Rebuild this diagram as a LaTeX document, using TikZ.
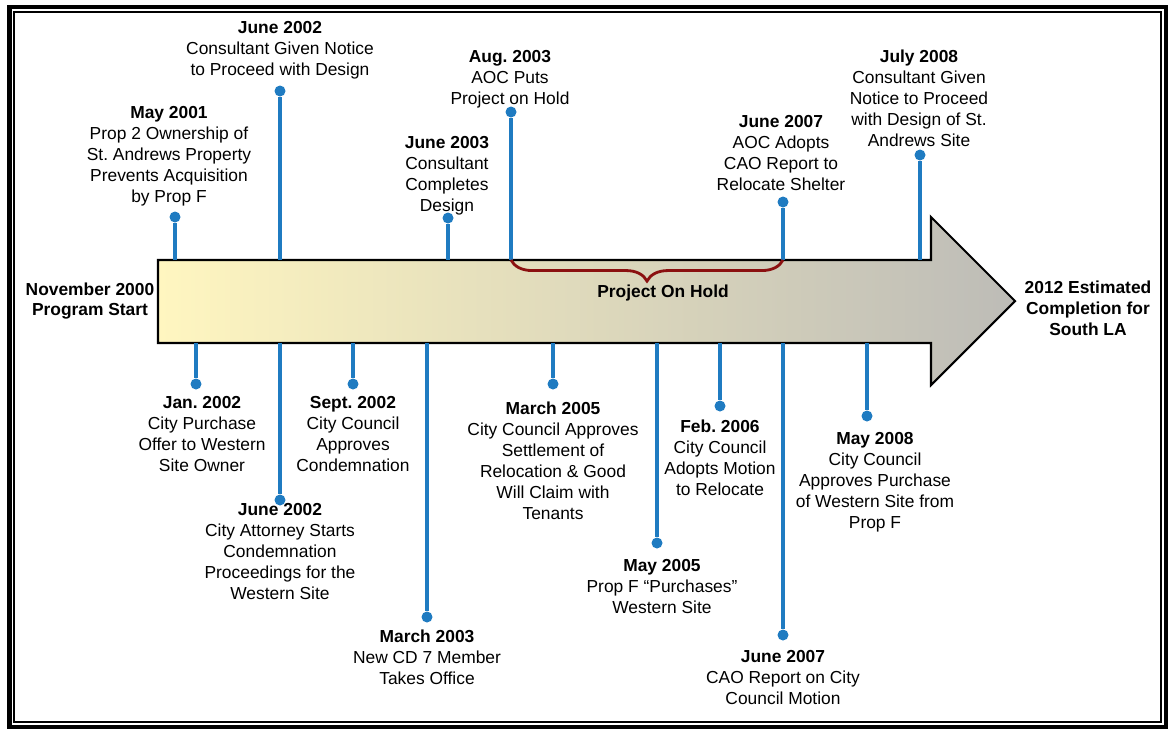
\documentclass[tikz,border=0pt]{standalone}
\usepackage{fontspec}
\setmainfont{Liberation Sans}
\usetikzlibrary{decorations.pathreplacing}
\definecolor{stemblue}{HTML}{1F7BC1}
\definecolor{holdred}{HTML}{8B1010}
\definecolor{arrowstart}{HTML}{FFF6C0}
\definecolor{arrowend}{HTML}{BDBCB7}
\frenchspacing

\begin{document}
\begin{tikzpicture}[x=0.02cm,y=-0.02cm,
  dot/.style={circle,fill=stemblue,inner sep=0pt,minimum size=2.2mm},
  stem/.style={stemblue,line width=1.9pt},
  lab/.style={align=center,inner sep=0pt,anchor=north,font=\fontsize{9.9}{11.9}\selectfont},
  endlab/.style={align=center,inner sep=0pt,font=\fontsize{9.9}{11.9}\selectfont\bfseries}]
\useasboundingbox (0,0) rectangle (1170,731);
% frame
\draw[line width=2.6pt] (9.5,7) rectangle (1166,727);
\draw[line width=1.1pt] (14,12) rectangle (1161,722);
% arrow
\draw[line width=1.2pt,left color=arrowstart,right color=arrowend,line join=miter]
  (158,260) -- (931,260) -- (931,217) -- (1015,301) -- (931,385) -- (931,343) -- (158,343) -- cycle;
\coordinate (top) at (0,260);
\coordinate (bot) at (0,343);
\node[endlab] at(90,301)(start){November 2000\\Program Start};
\node[endlab] at(1088,308)(finish){2012 Estimated\\Completion for\\South LA};
% events above
\foreach \n/\x/\y in {m01/175/217,j02u/280/91,j03/448/218,a03/511/112,j07u/783/202,j08/920/155}{
    \node[dot] at(\x,\y)(\n){};
    \draw[stem] (\n) -- (\n |- top);
}
% events below
\foreach \n/\x/\y in {ja02/196/384,j02l/280/500,s02/353/384,m03/427/617,m05/553/384,my05/657/543,f06/720/406,j07l/783/635,my08/867/416}{
    \node[dot] at(\x,\y)(\n){};
    \draw[stem] (\n) -- (\n |- bot);
}
\draw[holdred,line width=1.6pt,decorate,decoration={brace,mirror,amplitude=12pt}] (a03 |- top) -- (j07u |- top);
\node[endlab] at(663,293)(hold){Project On Hold};
% labels above
\node[lab] at(169,106)(m01t){\textbf{May 2001}\\Prop 2 Ownership of\\St. Andrews Property\\Prevents Acquisition\\by Prop F};
\node[lab] at(280,21)(j02ut){\textbf{June 2002}\\Consultant Given Notice\\to Proceed with Design};
\node[lab] at(447,136)(j03t){\textbf{June 2003}\\Consultant\\Completes\\Design};
\node[lab] at(510,50)(a03t){\textbf{Aug. 2003}\\AOC Puts\\Project on Hold};
\node[lab] at(781,115)(j07ut){\textbf{June 2007}\\AOC Adopts\\CAO Report to\\Relocate Shelter};
\node[lab] at(919,50)(j08t){\textbf{July 2008}\\Consultant Given\\Notice to Proceed\\with Design of St.\\Andrews Site};
% labels below
\node[lab] at(202,396)(ja02t){\textbf{Jan. 2002}\\City Purchase\\Offer to Western\\Site Owner};
\node[lab] at(280,503)(j02lt){\textbf{June 2002}\\City Attorney Starts\\Condemnation\\Proceedings for the\\Western Site};
\node[lab] at(353,396)(s02t){\textbf{Sept. 2002}\\City Council\\Approves\\Condemnation};
\node[lab] at(427,630)(m03t){\textbf{March 2003}\\New CD 7 Member\\Takes Office};
\node[lab] at(553,402)(m05t){\textbf{March 2005}\\City Council Approves\\Settlement of\\Relocation \& Good\\Will Claim with\\Tenants};
\node[lab] at(662,559)(my05t){\textbf{May 2005}\\Prop F “Purchases”\\Western Site};
\node[lab] at(720,420)(f06t){\textbf{Feb. 2006}\\City Council\\Adopts Motion\\to Relocate};
\node[lab] at(783,650)(j07lt){\textbf{June 2007}\\CAO Report on City\\Council Motion};
\node[lab] at(875,432)(my08t){\textbf{May 2008}\\City Council\\Approves Purchase\\of Western Site from\\Prop F};
\end{tikzpicture}
\end{document}
